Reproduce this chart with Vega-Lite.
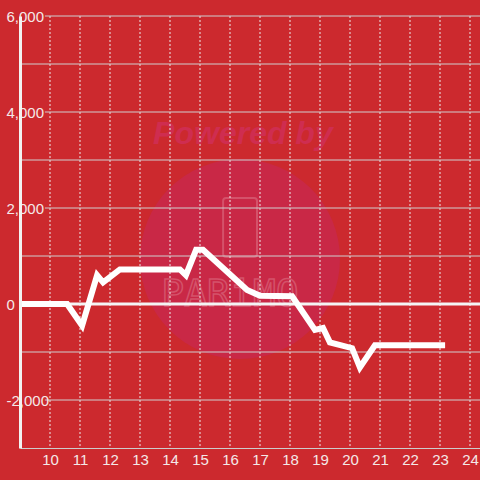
{
  "$schema": "https://vega.github.io/schema/vega-lite/v6.json",
  "width": 460,
  "height": 432,
  "autosize": {"type": "none"},
  "padding": {"left": 20, "top": 16, "right": 0, "bottom": 32},
  "background": "#cc292e",
  "config": {"view": {"stroke": null}, "font": "Liberation Sans"},
  "datasets": {
    "series": [
      {"x": 9.0, "y": 0},
      {"x": 10.57, "y": 0},
      {"x": 11.07, "y": -450},
      {"x": 11.57, "y": 600},
      {"x": 11.77, "y": 450},
      {"x": 12.33, "y": 720},
      {"x": 14.33, "y": 720},
      {"x": 14.53, "y": 600},
      {"x": 14.87, "y": 1130},
      {"x": 15.1, "y": 1130},
      {"x": 16.57, "y": 290},
      {"x": 17.0, "y": 170},
      {"x": 18.07, "y": 160},
      {"x": 18.83, "y": -540},
      {"x": 19.1, "y": -500},
      {"x": 19.33, "y": -800},
      {"x": 20.07, "y": -920},
      {"x": 20.33, "y": -1320},
      {"x": 20.83, "y": -860},
      {"x": 23.17, "y": -860}
    ],
    "xgrid": [
      {"x": 10}, {"x": 11}, {"x": 12}, {"x": 13}, {"x": 14}, {"x": 15}, {"x": 16},
      {"x": 17}, {"x": 18}, {"x": 19}, {"x": 20}, {"x": 21}, {"x": 22}, {"x": 23}, {"x": 24}
    ],
    "ygrid": [
      {"y": -1000, "kind": "minor"},
      {"y": 1000, "kind": "minor"},
      {"y": 3000, "kind": "minor"},
      {"y": 5000, "kind": "minor"},
      {"y": -2000, "kind": "major"},
      {"y": 2000, "kind": "major"},
      {"y": 4000, "kind": "major"},
      {"y": 6000, "kind": "major"}
    ]
  },
  "encoding": {
    "x": {
      "type": "quantitative",
      "scale": {"domain": [9, 24.333], "nice": false, "zero": false},
      "axis": {
        "values": [10, 11, 12, 13, 14, 15, 16, 17, 18, 19, 20, 21, 22, 23, 24],
        "format": "d", "grid": false, "ticks": false, "domain": true,
        "domainColor": "#cccccc", "domainWidth": 1,
        "labelPadding": 4, "labelFontSize": 15, "labelColor": "#f4e8e8",
        "labelFont": "Liberation Sans", "labelFlush": false, "labelOverlap": false,
        "title": null, "zindex": 1
      }
    },
    "y": {
      "type": "quantitative",
      "scale": {"domain": [-3000, 6000], "nice": false, "zero": false},
      "axis": {
        "values": [-2000, 0, 2000, 4000, 6000],
        "format": ",d", "labelExpr": "replace(datum.label, '\u2212', '-')",
        "grid": false, "ticks": false, "domain": true,
        "domainColor": "#f2f2f2", "domainWidth": 3,
        "labelAlign": "left", "labelBaseline": "middle", "labelPadding": 14,
        "labelFontSize": 15, "labelColor": "#f4e8e8", "labelFont": "Liberation Sans",
        "labelFlush": false, "labelOverlap": false,
        "title": null, "zindex": 1
      }
    }
  },
  "layer": [
    {
      "data": {"values": [{}]},
      "mark": {"type": "point", "shape": "circle", "filled": true, "size": 40000, "color": "#c92846", "opacity": 1, "strokeWidth": 0},
      "encoding": {
        "x": {"datum": 16.333},
        "y": {"datum": 937}
      }
    },
    {
      "data": {"values": [{}]},
      "mark": {"type": "rect", "fillOpacity": 0, "stroke": "#d4526a", "strokeWidth": 2, "cornerRadius": 3},
      "encoding": {
        "x": {"datum": 15.77},
        "x2": {"datum": 16.9},
        "y": {"datum": 2208},
        "y2": {"datum": 979}
      }
    },
    {
      "data": {"values": [{"t": "PARiMO"}]},
      "mark": {"type": "text", "font": "DejaVu Sans Mono", "fontSize": 38, "fillOpacity": 0, "stroke": "#d4526a", "strokeWidth": 1.5, "align": "center", "baseline": "middle"},
      "encoding": {
        "x": {"datum": 16.0},
        "y": {"datum": 190},
        "text": {"field": "t"}
      }
    },
    {
      "data": {"values": [{"t": "Powered by"}]},
      "mark": {"type": "text", "font": "Liberation Sans", "fontSize": 32, "fontWeight": "bold", "fontStyle": "italic", "color": "#cf2d50", "align": "center", "baseline": "middle"},
      "encoding": {
        "x": {"datum": 16.43},
        "y": {"datum": 3541},
        "text": {"field": "t"}
      }
    },
    {
      "data": {"name": "xgrid"},
      "mark": {"type": "rule", "color": "#ececec", "strokeWidth": 1, "strokeDash": [2, 2]},
      "encoding": {
        "x": {"field": "x"},
        "y": null
      }
    },
    {
      "data": {"name": "ygrid"},
      "transform": [{"filter": "datum.kind == 'minor'"}],
      "mark": {"type": "rule", "color": "#cfcfcf", "strokeWidth": 1},
      "encoding": {
        "x": null,
        "y": {"field": "y"}
      }
    },
    {
      "data": {"name": "ygrid"},
      "transform": [{"filter": "datum.kind == 'major'"}],
      "mark": {"type": "rule", "color": "#cfcfcf", "strokeWidth": 1},
      "encoding": {
        "x": {"datum": 9.83},
        "x2": {"datum": 24.333},
        "y": {"field": "y"}
      }
    },
    {
      "data": {"values": [{}]},
      "mark": {"type": "rule", "color": "#f4f4f4", "strokeWidth": 3},
      "encoding": {
        "x": null,
        "y": {"datum": 0}
      }
    },
    {
      "data": {"name": "series"},
      "mark": {"type": "line", "color": "#ffffff", "strokeWidth": 6, "strokeJoin": "miter", "strokeCap": "butt"},
      "encoding": {
        "x": {"field": "x"},
        "y": {"field": "y"}
      }
    }
  ]
}
